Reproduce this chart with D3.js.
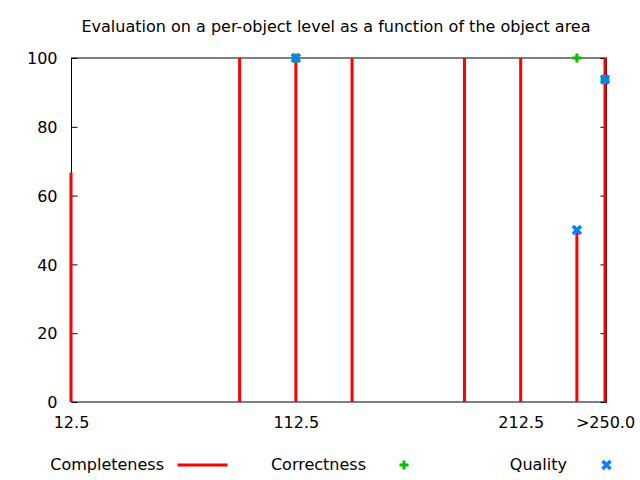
<!DOCTYPE html>
<html><head><meta charset="utf-8">
<script src="https://cdn.jsdelivr.net/npm/d3@7"></script>
<style>body{margin:0;background:#fff}svg text{font-family:"DejaVu Sans",sans-serif;fill:#000}</style>
</head><body><svg id="c" width="640" height="480"></svg>
<script>
const areas = [12.5, 87.5, 112.5, 137.5, 187.5, 212.5, 237.5, 250];
const completeness = [66.7, 100, 100, 100, 100, 100, 50, 100];
const correctness = [null, null, 100, null, null, null, 100, 93.75];
const quality = [null, null, 100, null, null, null, 50, 93.75];
const xTicks = [12.5, 112.5, 212.5, 250];
const xTickLabels = ["12.5", "112.5", "212.5", ">250.0"];
const yTicks = [0, 20, 40, 60, 80, 100];
const title = "Evaluation on a per-object level as a function of the object area";
const seriesNames = ["Completeness", "Correctness", "Quality"];
const colors = ["#ff0000", "#00c000", "#0080ff"];

const svg = d3.select("#c");
const L = 71, R = 605, T = 58, B = 402;
const x = d3.scaleLinear().domain([12.5, 250]).range([L, R]);
const y = d3.scaleLinear().domain([0, 100]).range([B, T]);

svg.append("text").attr("x", 336).attr("y", 32).attr("text-anchor", "middle")
  .attr("font-size", 16).text(title);

// frame
svg.append("rect").attr("x", L + 0.5).attr("y", T).attr("width", R - L + 1).attr("height", B - T)
  .attr("fill", "none").attr("stroke", "#000").attr("stroke-width", 1);

const yl = svg.append("g").attr("transform", `translate(${L + 0.5},0)`)
  .call(d3.axisLeft(y).tickValues(yTicks).tickSizeInner(-6).tickSizeOuter(0).tickPadding(14));
const yr = svg.append("g").attr("transform", `translate(${R + 1.5},0)`)
  .call(d3.axisRight(y).tickValues(yTicks).tickSizeInner(-6).tickSizeOuter(0).tickFormat(""));
const xb = svg.append("g").attr("transform", `translate(0,${B})`)
  .call(d3.axisBottom(x).tickValues(xTicks).tickSizeInner(-6).tickSizeOuter(0)
    .tickFormat((d, i) => xTickLabels[i]).tickPadding(14));
const xt = svg.append("g").attr("transform", `translate(0,${T})`)
  .call(d3.axisTop(x).tickValues(xTicks).tickSizeInner(-6).tickSizeOuter(0).tickFormat(""));
[yl, yr, xb, xt].forEach(g => {
  g.select(".domain").remove();
  g.selectAll(".tick line").attr("stroke", "#000");
  g.selectAll("text").attr("font-size", 16).attr("fill", "#000");
});
yl.selectAll("text").attr("dy", "0.36em");
xb.selectAll("text").attr("dy", "0.75em");

const data = areas.map((a, i) => ({a, c: completeness[i], r: correctness[i], q: quality[i]}));

svg.append("g").selectAll("line").data(data).join("line")
  .attr("x1", d => x(d.a)).attr("x2", d => x(d.a))
  .attr("y1", y(0)).attr("y2", d => y(d.c))
  .attr("stroke", colors[0]).attr("stroke-width", 3);

const plus = (g, cx, cy, col) => {
  g.append("path").attr("d", `M${cx-4.5},${cy}H${cx+4.5}M${cx},${cy-4.5}V${cy+4.5}`)
    .attr("stroke", col).attr("stroke-width", 3).attr("fill", "none");
};
const cross = (g, cx, cy, col) => {
  g.append("path").attr("d", `M${cx-4},${cy-4}L${cx+4},${cy+4}M${cx-4},${cy+4}L${cx+4},${cy-4}`)
    .attr("stroke", col).attr("stroke-width", 3.5).attr("fill", "none");
};
const pg = svg.append("g");
data.filter(d => d.r != null).forEach(d => plus(pg, x(d.a), y(d.r), colors[1]));
data.filter(d => d.q != null).forEach(d => cross(pg, x(d.a), y(d.q), colors[2]));

// legend
const leg = svg.append("g");
const textEnds = [164, 366, 567];
const keyX = [202.5, 404, 606.5];
seriesNames.forEach((n, i) => {
  leg.append("text").attr("x", textEnds[i]).attr("y", 470).attr("text-anchor", "end")
    .attr("font-size", 16).text(n);
});
leg.append("line").attr("x1", keyX[0] - 25).attr("x2", keyX[0] + 25)
  .attr("y1", 465).attr("y2", 465).attr("stroke", colors[0]).attr("stroke-width", 3);
plus(leg, keyX[1], 465, colors[1]);
cross(leg, keyX[2], 465, colors[2]);
</script></body></html>
